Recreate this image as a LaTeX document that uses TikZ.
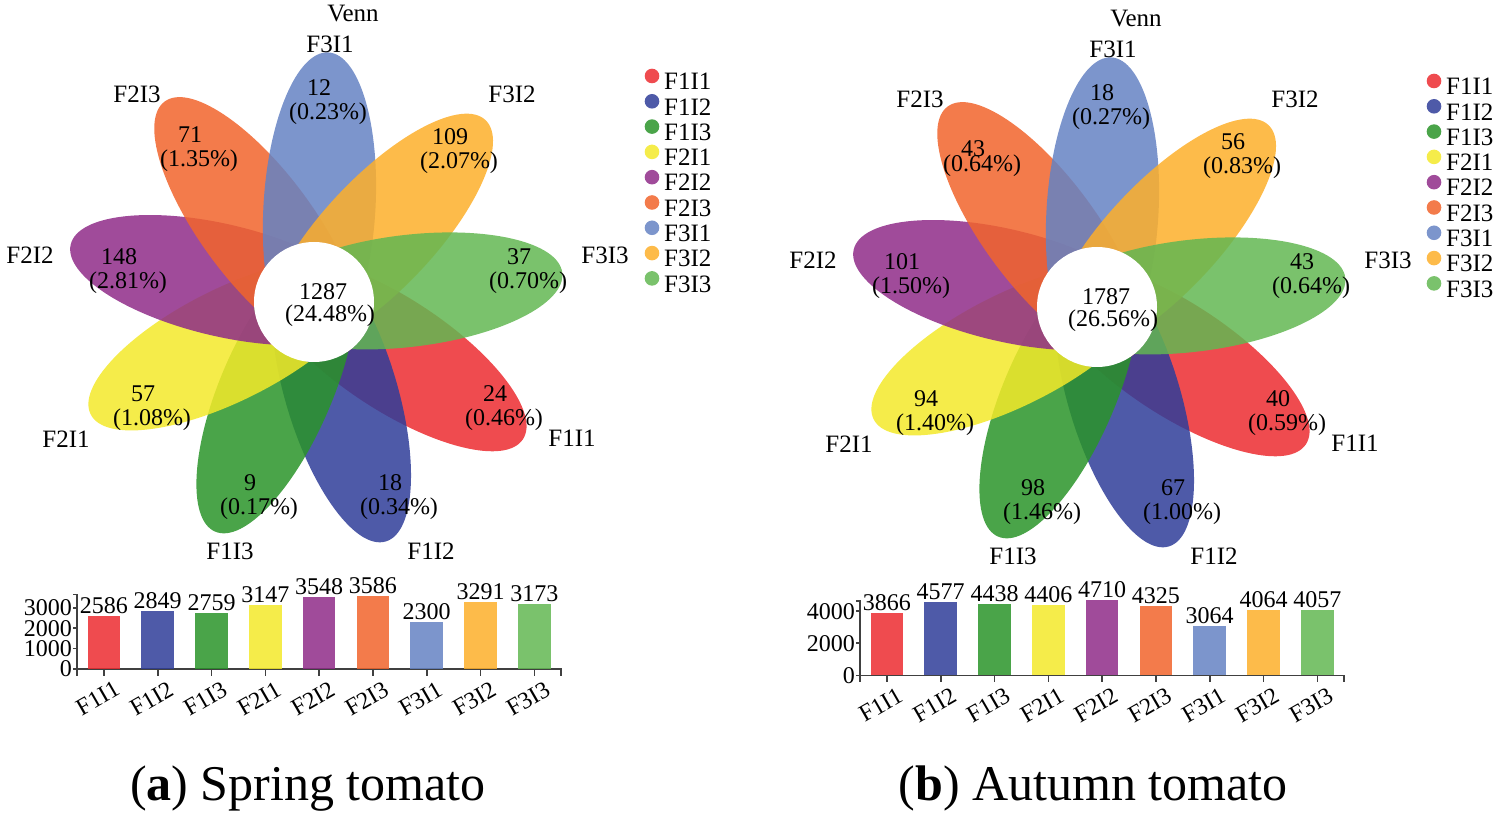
\documentclass[tikz,border=0pt]{standalone}
\usepackage{fontspec}
\setmainfont{Liberation Serif}
\usetikzlibrary{calc}
\definecolor{cF1I1}{RGB}{236,44,48}
\definecolor{cF1I2}{RGB}{47,61,153}
\definecolor{cF1I3}{RGB}{42,148,41}
\definecolor{cF2I1}{RGB}{243,233,42}
\definecolor{cF2I2}{RGB}{143,44,136}
\definecolor{cF2I3}{RGB}{241,100,44}
\definecolor{cF3I1}{RGB}{101,130,195}
\definecolor{cF3I2}{RGB}{253,175,42}
\definecolor{cF3I3}{RGB}{99,183,82}
\begin{document}
\begin{tikzpicture}[x=1pt,y=1pt]
\tikzstyle{petal}=[fill opacity=0.85] % petals, keys and bars
\tikzstyle{txt}=[inner sep=0pt, font=\fontsize{24}{24}\selectfont] % counts
\tikzstyle{tag}=[inner sep=0pt, font=\fontsize{25}{25}\selectfont] % group names
\tikzstyle{axisline}=[line width=1.6pt, black!75]
\useasboundingbox (0,0) rectangle (1500,815);
\coordinate (ca) at (314,513); % centre of flower (a)
\coordinate (cb) at (1097,508); % centre of flower (b)
% petals, one ellipse per group, clockwise from F1I1
\foreach \pn in {a,b}
  \foreach \nm [count=\i from 0] in {F1I1,F1I2,F1I3,F2I1,F2I2,F2I3,F3I1,F3I2,F3I3}
    \fill[petal, fill=c\nm, shift={(c\pn)}, rotate=-33.3-40*\i] (95,0) ellipse (155 and 56);
\fill[white] (ca) circle (60) (cb) circle (60); % core
% core counts
\node[txt] (a-core-n) at ($(ca)+(9,10)$) {1287};
\node[txt] (a-core-p) at ($(ca)+(16,-14)$) {(24.48\%)};
\node[txt] (b-core-n) at ($(cb)+(9,10)$) {1787};
\node[txt] (b-core-p) at ($(cb)+(16,-14)$) {(26.56\%)};
% unique counts
\foreach \nm/\lx/\ly/\num/\pct/\dy in {F1I1/190/-118/24/0.46/26, F1I2/85/-207/18/0.34/26,
    F1I3/-55/-207/9/0.17/26, F2I1/-162/-118/57/1.08/26, F2I2/-186/19/148/2.81/26,
    F2I3/-115/141/71/1.35/26, F3I1/14/188/12/0.23/26, F3I2/145/139/109/2.07/26, F3I3/214/19/37/0.70/26}{
  \node[txt] (a-\nm-n) at ($(ca)+(\lx-9,\ly+\dy)$) {\num};
  \node[txt] (a-\nm-p) at ($(ca)+(\lx,\ly)$) {(\pct\%)};
}
\foreach \nm/\lx/\ly/\num/\pct/\dy in {F1I1/190/-118/40/0.59/26, F1I2/85/-207/67/1.00/26,
    F1I3/-55/-207/98/1.46/26, F2I1/-162/-118/94/1.40/26, F2I2/-186/19/101/1.50/26,
    F2I3/-115/141/43/0.64/17, F3I1/14/188/18/0.27/26, F3I2/145/139/56/0.83/26, F3I3/214/19/43/0.64/26}{
  \node[txt] (b-\nm-n) at ($(cb)+(\lx-9,\ly+\dy)$) {\num};
  \node[txt] (b-\nm-p) at ($(cb)+(\lx,\ly)$) {(\pct\%)};
}
% group names round the flowers
\foreach \pn in {a,b}{
  \node[tag] (\pn-venn) at ($(c\pn)+(39,288)$) {Venn};
  \foreach \nm/\tx/\ty in {F1I1/258/-136, F1I2/117/-249, F1I3/-84/-249, F2I1/-248/-137, F2I2/-284/47,
      F2I3/-177/208, F3I1/16/258, F3I2/198/208, F3I3/291/47}
    \node[tag] (\pn-\nm) at ($(c\pn)+(\tx,\ty)$) {\nm};
}
% keys
\foreach \pn/\kx/\ky in {a/652/739, b/1434/734}
  \foreach \nm [count=\i from 0] in {F1I1,F1I2,F1I3,F2I1,F2I2,F2I3,F3I1,F3I2,F3I3}{
    \fill[petal, fill=c\nm] (\kx,\ky-25.3*\i) circle (7.3);
    \node[tag, anchor=west] (\pn-key-\nm) at (\kx+12,\ky-5.5-25.3*\i) {\nm};
  }
% bar chart (a)
\begin{scope}[shift={(77,146)}]
\draw[axisline] (-4,74.5) -- (0,74.5) -- (0,0) -- (484,0) -- ++(0,-7);
\draw[axisline] (0,0) -- ++(0,-7);
\foreach \val in {0,1000,2000,3000}{
  \draw[axisline] (0,\val*0.0204) -- ++(-4,0);
  \node[txt, anchor=east] (a-y\val) at (-5,\val*0.0204) {\val};
}
\foreach \nm/\val [count=\i from 0] in {F1I1/2586, F1I2/2849, F1I3/2759, F2I1/3147, F2I2/3548,
    F2I3/3586, F3I1/2300, F3I2/3291, F3I3/3173}{
  \fill[petal, fill=c\nm] (10.6+53.8*\i,0) rectangle ++(32.6,\val*0.0204);
  \draw[axisline] (26.9+53.8*\i,0) -- ++(0,-7);
  \node[txt, anchor=south] (a-v-\nm) at (26.9+53.8*\i,\val*0.0204+2) {\val};
  \node[txt, rotate=30, anchor=north east] (a-x-\nm) at (36.4+53.8*\i,-11) {\nm};
}
\end{scope}
% bar chart (b)
\begin{scope}[shift={(860,139.7)}]
\draw[axisline] (-4,74.5) -- (0,74.5) -- (0,0) -- (484,0) -- ++(0,-7);
\draw[axisline] (0,0) -- ++(0,-7);
\foreach \val in {0,2000,4000}{
  \draw[axisline] (0,\val*0.016) -- ++(-4,0);
  \node[txt, anchor=east] (b-y\val) at (-5,\val*0.016) {\val};
}
\foreach \nm/\val [count=\i from 0] in {F1I1/3866, F1I2/4577, F1I3/4438, F2I1/4406, F2I2/4710,
    F2I3/4325, F3I1/3064, F3I2/4064, F3I3/4057}{
  \fill[petal, fill=c\nm] (10.6+53.8*\i,0) rectangle ++(32.6,\val*0.016);
  \draw[axisline] (26.9+53.8*\i,0) -- ++(0,-7);
  \node[txt, anchor=south] (b-v-\nm) at (26.9+53.8*\i,\val*0.016+2) {\val};
  \node[txt, rotate=30, anchor=north east] (b-x-\nm) at (36.4+53.8*\i,-11) {\nm};
}
\end{scope}
% captions
\node[font=\fontsize{50}{50}\selectfont, anchor=base, inner sep=0pt] (cap-a) at (308,15) {(\textbf{a}) Spring tomato};
\node[font=\fontsize{50}{50}\selectfont, anchor=base, inner sep=0pt] (cap-b) at (1093,15) {(\textbf{b}) Autumn tomato};
\end{tikzpicture}
\end{document}
